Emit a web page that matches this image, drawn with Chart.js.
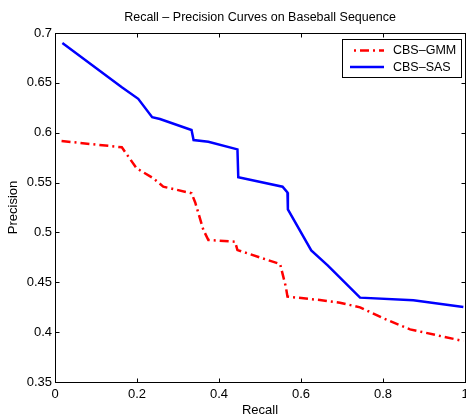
<!DOCTYPE html>
<html><head><meta charset="utf-8">
<script src="https://cdn.jsdelivr.net/npm/chart.js@4.4.0/dist/chart.umd.min.js"></script>
<style>html,body{margin:0;padding:0;background:#fff;overflow:hidden;}</style>
</head><body>
<canvas id="c" width="466" height="415" style="display:block;width:466px;height:415px"></canvas>
<script>
const titleText = 'Recall – Precision Curves on Baseball Sequence';
const xTitle = 'Recall';
const yTitle = 'Precision';
const xTicks = [0, 0.2, 0.4, 0.6, 0.8, 1];
const xTickLabels = ['0', '0.2', '0.4', '0.6', '0.8', '1'];
const yTicks = [0.35, 0.4, 0.45, 0.5, 0.55, 0.6, 0.65, 0.7];
const yTickLabels = ['0.35', '0.4', '0.45', '0.5', '0.55', '0.6', '0.65', '0.7'];
const seriesNames = ['CBS–GMM', 'CBS–SAS'];
const gmmRecall = [0.016, 0.163, 0.199, 0.240, 0.264, 0.333, 0.342, 0.362, 0.374, 0.439, 0.445, 0.549, 0.563, 0.567, 0.646, 0.695, 0.744, 0.800, 0.866, 0.930, 0.996];
const gmmPrecision = [0.5917, 0.5854, 0.5643, 0.5543, 0.5459, 0.5393, 0.530, 0.5024, 0.4924, 0.4907, 0.4823, 0.4683, 0.4456, 0.4356, 0.4322, 0.4295, 0.4249, 0.414, 0.4028, 0.397, 0.3911];
const sasRecall = [0.018, 0.163, 0.203, 0.237, 0.256, 0.333, 0.338, 0.374, 0.445, 0.447, 0.555, 0.567, 0.568, 0.625, 0.665, 0.744, 0.874, 0.996];
const sasPrecision = [0.690, 0.6455, 0.634, 0.6155, 0.6137, 0.6027, 0.5927, 0.591, 0.5833, 0.5553, 0.5459, 0.540, 0.5232, 0.482, 0.467, 0.4346, 0.4319, 0.4252];

const FONT = "'Liberation Sans', Arial, Helvetica, sans-serif";
Chart.defaults.font.family = FONT;
Chart.defaults.color = '#000';

const toPts = (xs, ys) => xs.map((x, i) => ({x: x, y: ys[i]}));

const framePlugin = {
  id: 'framePlugin',
  afterDraw(chart) {
    const ctx = chart.ctx;
    const a = chart.chartArea;
    const xs = chart.scales.x, ys = chart.scales.y;
    ctx.save();
    ctx.strokeStyle = '#000';
    ctx.lineWidth = 1;
    ctx.setLineDash([]);
    const L = Math.round(a.left) + 0.5, R = Math.round(a.right) + 0.5;
    const T = Math.round(a.top) + 0.5, B = Math.round(a.bottom) + 0.5;
    ctx.strokeRect(L, T, R - L, B - T);
    const tl = 4;
    ctx.beginPath();
    xTicks.forEach(v => {
      const p = Math.round(xs.getPixelForValue(v)) + 0.5;
      ctx.moveTo(p, B); ctx.lineTo(p, B - tl);
      ctx.moveTo(p, T); ctx.lineTo(p, T + tl);
    });
    yTicks.forEach(v => {
      const p = Math.round(ys.getPixelForValue(v)) + 0.5;
      ctx.moveTo(L, p); ctx.lineTo(L + tl, p);
      ctx.moveTo(R, p); ctx.lineTo(R - tl, p);
    });
    ctx.stroke();
    // legend
    const bx = 342.5, by = 39.5, bw = 119, bh = 38;
    ctx.fillStyle = '#fff';
    ctx.fillRect(bx, by, bw, bh);
    ctx.strokeRect(bx, by, bw, bh);
    const ds = chart.data.datasets;
    const rows = [50.5, 67];
    ds.forEach((d, i) => {
      ctx.save();
      ctx.strokeStyle = d.borderColor;
      ctx.lineWidth = d.borderWidth;
      ctx.setLineDash(d.borderDash || []);
      ctx.lineDashOffset = d.borderDash ? 9 : 0;
      ctx.beginPath();
      ctx.moveTo(350, rows[i]); ctx.lineTo(384, rows[i]);
      ctx.stroke();
      ctx.restore();
      ctx.fillStyle = '#000';
      ctx.font = '12.5px ' + FONT;
      ctx.textBaseline = 'middle';
      ctx.textAlign = 'left';
      ctx.fillText(d.label, 393, rows[i] + 0.5);
    });
    ctx.restore();
  }
};

new Chart(document.getElementById('c'), {
  type: 'line',
  data: {
    datasets: [
      {label: seriesNames[0], data: toPts(gmmRecall, gmmPrecision), borderColor: '#ff0000', borderWidth: 2.5, borderDash: [9, 4, 2, 4], pointRadius: 0, tension: 0, fill: false},
      {label: seriesNames[1], data: toPts(sasRecall, sasPrecision), borderColor: '#0000ff', borderWidth: 2.5, pointRadius: 0, tension: 0, fill: false}
    ]
  },
  options: {
    responsive: false,
    animation: false,
    devicePixelRatio: 1,
    layout: {padding: {left: 0, right: 1, top: 0, bottom: 0}},
    plugins: {
      legend: {display: false},
      tooltip: {enabled: false},
      title: {display: true, fullSize: false, text: titleText, color: '#000', font: {size: 12.5, weight: 'normal', lineHeight: 1.2}, padding: {top: 10, bottom: 8}}
    },
    scales: {
      x: {
        type: 'linear', min: 0, max: 1,
        afterBuildTicks: s => { s.ticks = xTicks.map(v => ({value: v})); },
        afterFit: s => { s.height = 33; s.paddingLeft = 0; s.paddingRight = 0; },
        ticks: {callback: (v, i) => xTickLabels[i], padding: 5, font: {size: 13}, color: '#000', maxRotation: 0, autoSkip: false},
        grid: {display: false, drawTicks: false},
        border: {display: false},
        title: {display: true, text: xTitle, color: '#000', font: {size: 13, lineHeight: 0.65}, padding: 0}
      },
      y: {
        type: 'linear', min: 0.35, max: 0.7,
        afterBuildTicks: s => { s.ticks = yTicks.map(v => ({value: v})); },
        afterFit: s => { s.width = 55; s.paddingTop = 0; s.paddingBottom = 0; },
        ticks: {callback: (v, i) => yTickLabels[i], padding: 3, font: {size: 13}, color: '#000', autoSkip: false},
        grid: {display: false, drawTicks: false},
        border: {display: false},
        title: {display: true, text: yTitle, color: '#000', font: {size: 13, lineHeight: 1}, padding: {top: 7, bottom: 0}}
      }
    }
  },
  plugins: [framePlugin]
});
</script>
</body></html>
